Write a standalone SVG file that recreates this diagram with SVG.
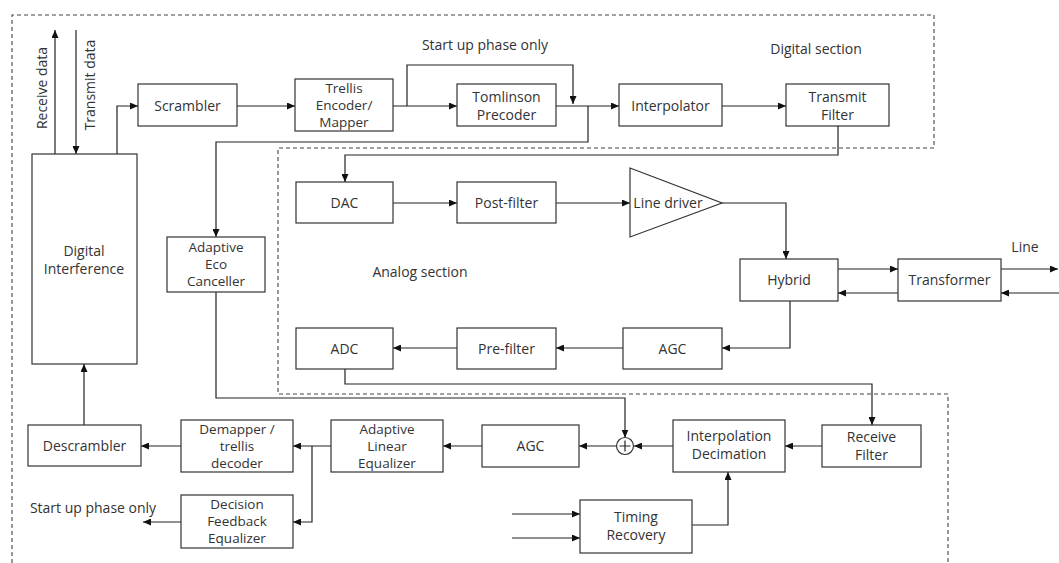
<svg xmlns="http://www.w3.org/2000/svg" width="1059" height="563" viewBox="0 0 1059 563">
<defs>
<marker id="ah" markerUnits="userSpaceOnUse" markerWidth="8" markerHeight="7" refX="8" refY="3.5" orient="auto">
<path d="M0,0 L8,3.5 L0,7 z" fill="#111"/>
</marker>
<style>
.b{fill:#fff;stroke:#333;stroke-width:1.2}
.t{font-family:"Open Sans","Liberation Sans",sans-serif;font-size:14px;fill:#333;text-anchor:middle}
.s{font-size:13.5px}
.c{fill:none;stroke:#222;stroke-width:1.2}
.a{fill:none;stroke:#222;stroke-width:1.2;marker-end:url(#ah)}
.d{fill:none;stroke:#444;stroke-width:1.1;stroke-dasharray:4,3}
</style>
</defs>
<rect width="1059" height="563" fill="#fff"/>
<g id="sections">
<path class="d" d="M12,563 L12,15 L934,15 L934,148 L278,148 L278,394 L948,394 L948,563"/>
<text class="t" x="485" y="50">Start up phase only</text>
<text class="t" x="816" y="54">Digital section</text>
<text class="t" x="420" y="277">Analog section</text>
<text class="t" x="1025" y="252">Line</text>
<text class="t" x="93" y="513">Start up phase only</text>
<text class="t" transform="translate(47,88) rotate(-90)">Receive data</text>
<text class="t" transform="translate(95,85) rotate(-90)">Transmit data</text>
</g>
<g id="connectors">
<path class="a" d="M55,154 L55,30"/>
<path class="a" d="M76,30 L76,154"/>
<path class="a" d="M117,154 L117,106 L138,106"/>
<path class="a" d="M237,106 L295,106"/>
<path class="a" d="M393,106 L457,106"/>
<path class="a" d="M407,106 L407,65 L573,65 L573,104"/>
<path class="a" d="M556,106 L619,106"/>
<path class="a" d="M588,106 L588,142 L216,142 L216,237"/>
<path class="a" d="M722,106 L786,106"/>
<path class="a" d="M838,126 L838,155 L345,155 L345,182"/>
<path class="a" d="M393,203 L457,203"/>
<path class="a" d="M556,203 L630,203"/>
<path class="a" d="M722,203 L786,203 L786,259"/>
<path class="a" d="M838,269 L898,269"/>
<path class="a" d="M898,293 L838,293"/>
<path class="a" d="M1001,269 L1058,269"/>
<path class="a" d="M1059,293 L1001,293"/>
<path class="a" d="M790,301 L790,348 L722,348"/>
<path class="a" d="M623,348 L556,348"/>
<path class="a" d="M457,348 L393,348"/>
<path class="a" d="M345,369 L345,384 L872,384 L872,425"/>
<path class="a" d="M216,292 L216,398 L625,398 L625,437.5"/>
<path class="a" d="M822,446 L785,446"/>
<path class="a" d="M673,446 L634,446"/>
<path class="a" d="M616,446 L579,446"/>
<path class="a" d="M482,446 L443,446"/>
<path class="a" d="M331,446 L293,446"/>
<path class="a" d="M312,446 L312,522 L293,522"/>
<path class="a" d="M181,446 L141,446"/>
<path class="a" d="M181,522 L143,522"/>
<path class="a" d="M84,425 L84,364"/>
<path class="a" d="M512,514 L580,514"/>
<path class="a" d="M512,538 L580,538"/>
<path class="a" d="M692,525 L728,525 L728,472"/>
</g>
<g id="digital-interference"><rect class="b" x="32" y="154" width="105" height="210"/><text class="t" x="84" y="256">Digital</text><text class="t" x="84" y="274">Interference</text></g>
<g id="scrambler"><rect class="b" x="138" y="84" width="99" height="42"/><text class="t" x="187.5" y="111">Scrambler</text></g>
<g id="trellis-encoder"><rect class="b" x="295" y="79" width="98" height="52"/><text class="t s" x="344" y="93">Trellis</text><text class="t s" x="344" y="110">Encoder/</text><text class="t s" x="344" y="127">Mapper</text></g>
<g id="tomlinson"><rect class="b" x="457" y="84" width="99" height="42"/><text class="t" x="506.5" y="102">Tomlinson</text><text class="t" x="506.5" y="120">Precoder</text></g>
<g id="interpolator"><rect class="b" x="619" y="84" width="103" height="42"/><text class="t" x="670.5" y="111">Interpolator</text></g>
<g id="transmit-filter"><rect class="b" x="786" y="84" width="103" height="42"/><text class="t" x="837.5" y="102">Transmit</text><text class="t" x="837.5" y="120">Filter</text></g>
<g id="dac"><rect class="b" x="296" y="182" width="97" height="41"/><text class="t" x="344.5" y="208">DAC</text></g>
<g id="post-filter"><rect class="b" x="457" y="182" width="99" height="41"/><text class="t" x="506.5" y="208">Post-filter</text></g>
<g id="line-driver"><path class="b" d="M630,168 L722,203 L630,237 z"/><text class="t" x="668" y="208">Line driver</text></g>
<g id="hybrid"><rect class="b" x="740" y="259" width="98" height="42"/><text class="t" x="789" y="285">Hybrid</text></g>
<g id="transformer"><rect class="b" x="898" y="259" width="103" height="42"/><text class="t" x="949.5" y="285">Transformer</text></g>
<g id="agc-analog"><rect class="b" x="623" y="328" width="99" height="41"/><text class="t" x="672.5" y="354">AGC</text></g>
<g id="pre-filter"><rect class="b" x="457" y="328" width="99" height="41"/><text class="t" x="506.5" y="354">Pre-filter</text></g>
<g id="adc"><rect class="b" x="296" y="328" width="97" height="41"/><text class="t" x="344.5" y="354">ADC</text></g>
<g id="echo-canceller"><rect class="b" x="167" y="237" width="98" height="55"/><text class="t s" x="216" y="252">Adaptive</text><text class="t s" x="216" y="269">Eco</text><text class="t s" x="216" y="286">Canceller</text></g>
<g id="receive-filter"><rect class="b" x="822" y="425" width="99" height="42"/><text class="t" x="871.5" y="442">Receive</text><text class="t" x="871.5" y="460">Filter</text></g>
<g id="interp-decimation"><rect class="b" x="673" y="420" width="112" height="52"/><text class="t" x="729" y="441">Interpolation</text><text class="t" x="729" y="459">Decimation</text></g>
<g id="adder"><circle class="b" cx="625" cy="446" r="8.5"/><path class="c" d="M619.5,446 L630.5,446 M625,440.5 L625,451.5"/></g>
<g id="agc-digital"><rect class="b" x="482" y="425" width="97" height="42"/><text class="t" x="530.5" y="451">AGC</text></g>
<g id="linear-equalizer"><rect class="b" x="331" y="420" width="112" height="52"/><text class="t s" x="387" y="434">Adaptive</text><text class="t s" x="387" y="451">Linear</text><text class="t s" x="387" y="468">Equalizer</text></g>
<g id="demapper"><rect class="b" x="181" y="420" width="112" height="52"/><text class="t s" x="237" y="434">Demapper /</text><text class="t s" x="237" y="451">trellis</text><text class="t s" x="237" y="468">decoder</text></g>
<g id="descrambler"><rect class="b" x="28" y="425" width="113" height="41"/><text class="t" x="84.5" y="451">Descrambler</text></g>
<g id="dfe"><rect class="b" x="181" y="495" width="112" height="53"/><text class="t s" x="237" y="509">Decision</text><text class="t s" x="237" y="526">Feedback</text><text class="t s" x="237" y="543">Equalizer</text></g>
<g id="timing-recovery"><rect class="b" x="580" y="500" width="112" height="53"/><text class="t" x="636" y="522">Timing</text><text class="t" x="636" y="540">Recovery</text></g>
</svg>
